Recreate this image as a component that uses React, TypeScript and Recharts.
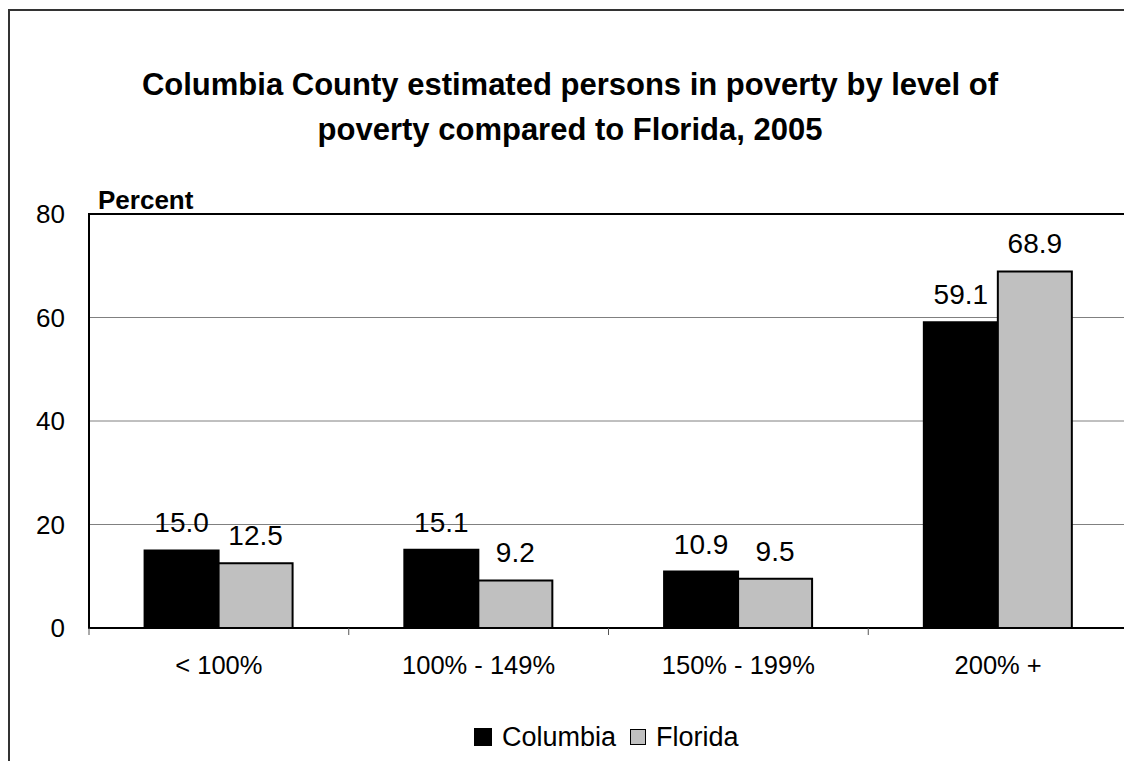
import React from "react";
import {
  Bar,
  BarChart,
  XAxis,
  YAxis,
  CartesianGrid,
  LabelList,
  ReferenceArea,
} from "recharts";

const categories = ["< 100%", "100% - 149%", "150% - 199%", "200% +"];
const columbia = [15.0, 15.1, 10.9, 59.1];
const florida = [12.5, 9.2, 9.5, 68.9];
const yTicks = [0, 20, 40, 60, 80];

const FONT = "Arial, 'Liberation Sans', sans-serif";
const CHART_W = 1124;
const CHART_H = 753;
const MARGIN = { top: 206, right: 4, bottom: 93, left: 21 };
const Y_AXIS_W = 60;
const PLOT_W = CHART_W - MARGIN.left - MARGIN.right - Y_AXIS_W;
const STEP = PLOT_W / categories.length;

const data = categories.map((name, i) => ({
  name,
  columbia: columbia[i],
  florida: florida[i],
}));

// category label plus boundary ticks (the original puts ticks between groups)
function CategoryTick(props: any) {
  const { x, y, payload, index } = props;
  const left = x - STEP / 2;
  const right = x + STEP / 2;
  return (
    <g>
      <line x1={left} y1={y} x2={left} y2={y + 7} stroke="#555" strokeWidth={1} />
      {index === categories.length - 1 && (
        <line x1={right} y1={y} x2={right} y2={y + 7} stroke="#555" strokeWidth={1} />
      )}
      <text
        x={x}
        y={y + 46}
        textAnchor="middle"
        fontSize={25.5}
        fontFamily={FONT}
        fill="#000"
      >
        {payload.value}
      </text>
    </g>
  );
}

const fmt = (v: any) => Number(v).toFixed(1);

export default function App() {
  return (
    <div
      style={{
        position: "relative",
        width: CHART_W,
        height: CHART_H,
        overflow: "hidden",
        fontFamily: FONT,
      }}
    >
      {/* outer frame: only the left and top edges are inside the picture */}
      <div
        style={{
          position: "absolute",
          left: 0,
          top: 1,
          width: CHART_W,
          height: 2,
          background: "#333",
        }}
      />
      <div
        style={{
          position: "absolute",
          left: 0,
          top: 1,
          width: 2,
          height: CHART_H,
          background: "#333",
        }}
      />
      <div
        style={{
          position: "absolute",
          left: 0,
          top: 54,
          width: CHART_W,
          textAlign: "center",
          fontWeight: "bold",
          fontSize: 31,
          lineHeight: "45px",
          color: "#000",
        }}
      >
        Columbia County estimated persons in poverty by level of
        <br />
        poverty compared to Florida, 2005
      </div>
      <div
        style={{
          position: "absolute",
          left: 90,
          top: 177,
          fontWeight: "bold",
          fontSize: 26,
          lineHeight: "30px",
        }}
      >
        Percent
      </div>
      <BarChart
        width={CHART_W}
        height={CHART_H}
        data={data}
        margin={MARGIN}
        barCategoryGap="21.4%"
        barGap={0}
      >
        <CartesianGrid vertical={false} stroke="#808080" strokeWidth={1} />
        <XAxis
          dataKey="name"
          height={40}
          tickLine={false}
          tickSize={0}
          tickMargin={0}
          axisLine={{ stroke: "#000", strokeWidth: 2 }}
          tick={<CategoryTick />}
          interval={0}
        />
        <YAxis
          width={Y_AXIS_W}
          domain={[0, 80]}
          ticks={yTicks}
          tickLine={false}
          tickMargin={18}
          axisLine={{ stroke: "#000", strokeWidth: 2 }}
          tick={{ fontSize: 26, fill: "#000", fontFamily: FONT }}
        />
        {/* plot frame */}
        <ReferenceArea
          y1={0}
          y2={80}
          fill="none"
          fillOpacity={0}
          stroke="#000"
          strokeWidth={2}
        />
        <Bar
          dataKey="columbia"
          fill="#000"
          stroke="#000"
          strokeWidth={2}
          isAnimationActive={false}
        >
          <LabelList
            dataKey="columbia"
            position="top"
            offset={18}
            formatter={fmt}
            style={{ fontSize: 28, fill: "#000", fontFamily: FONT }}
          />
        </Bar>
        <Bar
          dataKey="florida"
          fill="#c0c0c0"
          stroke="#000"
          strokeWidth={2}
          isAnimationActive={false}
        >
          <LabelList
            dataKey="florida"
            position="top"
            offset={18}
            formatter={fmt}
            style={{ fontSize: 28, fill: "#000", fontFamily: FONT }}
          />
        </Bar>
      </BarChart>
      <div
        style={{
          position: "absolute",
          left: 466,
          top: 714,
          display: "flex",
          alignItems: "center",
          fontSize: 27,
          lineHeight: "30px",
          color: "#000",
        }}
      >
        <span
          style={{
            display: "inline-block",
            width: 18,
            height: 18,
            background: "#000",
            marginRight: 10,
          }}
        />
        <span>Columbia</span>
        <span
          style={{
            display: "inline-block",
            width: 14,
            height: 14,
            background: "#c0c0c0",
            border: "1px solid #000",
            marginLeft: 14,
            marginRight: 10,
          }}
        />
        <span>Florida</span>
      </div>
    </div>
  );
}
